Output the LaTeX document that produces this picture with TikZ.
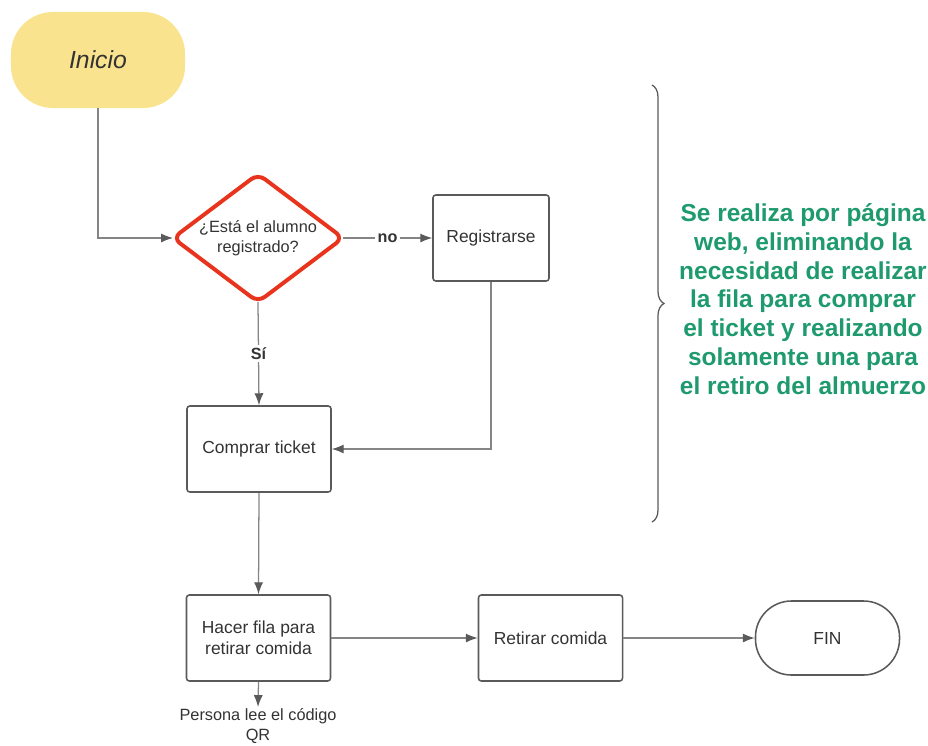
\documentclass[tikz,border=0pt]{standalone}
\usepackage{fontspec}
\setmainfont{Liberation Sans}
\usetikzlibrary{shapes.geometric,arrows.meta,decorations.pathreplacing}
\definecolor{amarillo}{HTML}{FAE38F}
\definecolor{rojo}{HTML}{E8331D}
\definecolor{verde}{HTML}{1E9A6E}
\definecolor{borde}{HTML}{5A5A5A}
\definecolor{linea}{HTML}{858585}
\definecolor{texto}{HTML}{333333}

\begin{document}
\begin{tikzpicture}[x=0.025cm,y=-0.025cm,
    caja/.style={draw=borde, line width=1.1pt, rounded corners=2pt, minimum width=3.6cm, minimum height=2.15cm, align=center, text=texto, font=\fontsize{12.4}{15}\selectfont},
    flecha/.style={draw=linea, line width=0.9pt, -{Latex[length=8.5pt,width=6.5pt,color=borde]}},
    etiqueta/.style={fill=white, inner sep=2pt, text=texto, font=\bfseries\fontsize{11.5}{14}\selectfont}]
  \useasboundingbox (0,0) rectangle (928,745);
  % nodos
  \node[fill=amarillo, rounded corners=1.05cm, minimum width=4.35cm, minimum height=2.4cm, text=texto, font=\itshape\fontsize{17.6}{20}\selectfont] (inicio) at (98,60) {Inicio};
  \node[shape=diamond, draw=rojo, fill=white, line width=2.8pt, rounded corners=6pt, aspect=1.33, inner sep=0pt, outer sep=0pt, minimum width=4.25cm, minimum height=3.2cm, align=center, text=texto, font=\fontsize{11.6}{14.5}\selectfont] (pregunta) at (258,238) {¿Está el alumno\\registrado?};
  \node[caja, minimum width=2.9cm] (registro) at (491,238) {Registrarse};
  \node[caja] (comprar) at (259,449) {Comprar ticket};
  \node[caja] (fila) at (258.5,638) {Hacer fila para\\retirar comida};
  \node[caja] (retirar) at (550.5,638) {Retirar comida};
  \node[caja, rounded corners=0.9cm, minimum height=1.85cm] (fin) at (827.5,638) {FIN};
  \node[anchor=north, align=center, inner sep=1pt, text=texto, font=\fontsize{11.6}{14}\selectfont] (lector) at (258,707) {Persona lee el código\\QR};
  % conectores
  \draw[flecha] (inicio.south) |- (pregunta.west);
  \draw[flecha] (pregunta.east) -- node[etiqueta] {no} (registro.west);
  \draw[flecha] (pregunta.south) -- node[etiqueta] {Sí} (comprar.north);
  \draw[flecha] (registro.south) |- (comprar.east);
  \draw[flecha] (comprar.south) -- (fila.north);
  \draw[flecha] (fila.east) -- (retirar.west);
  \draw[flecha] (retirar.east) -- (fin.west);
  \draw[flecha] (fila.south) -- (lector.north);
  % llave y nota
  \coordinate (llaveA) at (652,85);
  \coordinate (llaveB) at (652,522);
  \draw[draw=borde, line width=0.9pt, decorate, decoration={brace, amplitude=0.3cm}] (llaveA) -- (llaveB);
  \node[text=verde, align=center, font=\bfseries\fontsize{17.4}{20.5}\selectfont] (nota) at (803,299) {Se realiza por página\\web, eliminando la\\necesidad de realizar\\la fila para comprar\\el ticket y realizando\\solamente una para\\el retiro del almuerzo};
\end{tikzpicture}
\end{document}
